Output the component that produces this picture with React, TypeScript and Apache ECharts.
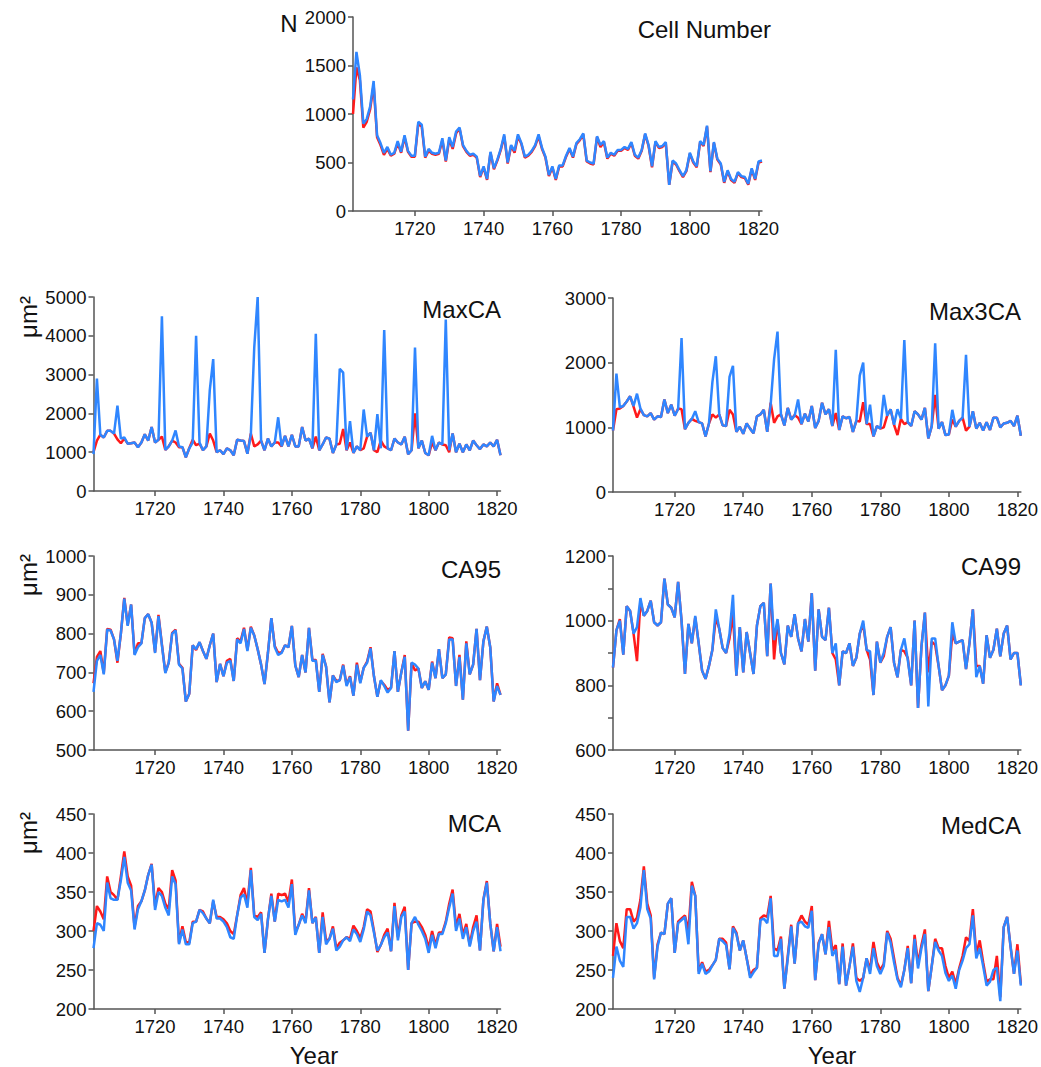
import React, { useEffect, useRef } from "react";
import * as echarts from "echarts";

const years = Array.from({ length: 120 }, (_, i) => 1702 + i);
const xTickValues = [1720, 1740, 1760, 1780, 1800, 1820];

const cellBlue = [
  1150, 1640, 1400, 900, 950, 1080, 1340, 780, 700, 600,
  660, 580, 600, 720, 610, 780, 620, 570, 570, 920,
  890, 560, 640, 600, 590, 600, 750, 520, 760, 660,
  820, 860, 680, 620, 580, 590, 560, 360, 460, 330,
  610, 440, 530, 640, 790, 500, 680, 620, 790, 700,
  560, 580, 620, 680, 790, 650, 560, 370, 460, 330,
  470, 470, 570, 650, 560, 700, 740, 800, 520, 500,
  490, 770, 680, 720, 550, 600, 580, 630, 630, 660,
  640, 710, 580, 550, 630, 800, 680, 460, 720, 660,
  670, 710, 270, 520, 490, 420, 360, 420, 600, 510,
  460, 720, 680, 880, 410, 710, 540, 490, 300, 420,
  330, 300, 400, 360, 350, 280, 440, 330, 510, 520,
];
const cellRed = [
  1000, 1480, 1350, 860, 920, 1050, 1300, 760, 680, 580,
  640, 570, 590, 700, 600, 760, 610, 560, 560, 900,
  870, 550, 620, 590, 580, 590, 730, 510, 740, 640,
  800, 850, 670, 610, 570, 580, 550, 350, 450, 320,
  600, 430, 520, 630, 770, 490, 670, 600, 770, 690,
  550, 570, 610, 670, 770, 640, 550, 360, 450, 320,
  460, 460, 560, 640, 550, 690, 730, 790, 510, 490,
  480, 760, 660, 710, 540, 590, 570, 620, 620, 650,
  630, 700, 570, 540, 620, 790, 670, 450, 710, 650,
  660, 700, 270, 510, 480, 410, 350, 410, 590, 500,
  450, 710, 670, 870, 400, 700, 530, 480, 290, 410,
  320, 290, 390, 350, 340, 270, 430, 320, 500, 510,
];

const maxcaBlue = [
  950, 2900, 1450, 1380, 1550, 1550, 1480, 2200, 1350, 1380,
  1220, 1230, 1250, 1130, 1250, 1460, 1300, 1650, 1250, 1320,
  4500, 1060, 1150, 1300, 1560, 1150, 1130, 870, 1100, 1250,
  4000, 1250, 1050, 1150, 2600, 3400, 1000, 1050, 950, 1100,
  1050, 920, 1320, 1300, 1290, 960, 1450, 3700, 5000, 1300,
  1050, 1350, 1150, 1250, 1900, 1150, 1420, 1150, 1450, 1150,
  1150, 1650, 1300, 1350, 1100, 4050, 1050, 1200, 1380, 1350,
  980, 1200, 3150, 3050, 1050, 1800, 980, 1150, 1050, 2100,
  1400, 1500, 1050, 1980, 1100, 4150, 1100, 1050, 1350, 1250,
  1200, 1400, 950, 1050, 3700, 1100, 1300, 980, 920, 1420,
  1050, 1250, 1200, 4420, 1050, 1480, 1000, 1220, 1000, 1200,
  1050, 1300, 1180, 1080, 1200, 1150, 1250, 1150, 1320, 920,
];
const maxcaRed = [
  1000, 1300, 1450, 1380, 1550, 1550, 1480, 1330, 1230, 1350,
  1220, 1230, 1250, 1130, 1250, 1460, 1300, 1650, 1250, 1320,
  1400, 1060, 1150, 1300, 1250, 1130, 1130, 870, 1100, 1320,
  1180, 1220, 1050, 1150, 1480, 1300, 1000, 1050, 950, 1100,
  1050, 920, 1320, 1300, 1290, 960, 1480, 1150, 1200, 1300,
  1050, 1350, 1150, 1250, 1250, 1150, 1420, 1150, 1450, 1150,
  1150, 1650, 1300, 1350, 1100, 1400, 1050, 1200, 1380, 1350,
  980, 1200, 1220, 1600, 1050, 1250, 980, 1150, 1050, 1100,
  1400, 1500, 1050, 1000, 1300, 1150, 1100, 1050, 1350, 1250,
  1200, 1400, 950, 1050, 2000, 1100, 1300, 980, 920, 1250,
  1050, 1250, 1200, 1180, 1000, 1480, 1000, 1220, 1000, 1200,
  1050, 1300, 1180, 1080, 1200, 1150, 1250, 1150, 1320, 920,
];

const max3Blue = [
  950, 1830, 1310, 1330, 1400, 1480, 1330, 1520, 1290, 1190,
  1170, 1220, 1120, 1170, 1160, 1430, 1220, 1350, 1180, 1280,
  2380, 970, 1070, 1130, 1250, 1080, 1060, 860, 1060, 1700,
  2100, 1200, 1030, 1020, 1780, 1950, 930, 1010, 900, 1060,
  980, 910, 1170, 1200, 1270, 930, 1350, 2050, 2480, 1200,
  1030, 1300, 1120, 1180, 1430, 1050, 1210, 1090, 1330, 990,
  1100, 1380, 1200, 1280, 1020, 2200, 960, 1170, 1140, 1160,
  930, 1100, 1800, 2000, 1050, 1350, 860, 1020, 980, 1500,
  1180, 1280, 1040, 1280, 1130, 2350, 1080, 1020, 1250, 1200,
  1120, 1300, 830, 1020, 2300, 980, 1080, 880, 890, 1270,
  1010, 1100, 1150, 2120, 1010, 1250, 980, 1070, 950, 1080,
  960, 1150, 1150, 1000, 1060, 1070, 1100, 1020, 1180, 870,
];
const max3Red = [
  950, 1280, 1290, 1330, 1400, 1480, 1320, 1150, 1280, 1190,
  1170, 1220, 1120, 1170, 1160, 1430, 1220, 1350, 1180, 1290,
  1280, 970, 1070, 1130, 1100, 1080, 1060, 860, 1060, 1200,
  1150, 1200, 1030, 1020, 1270, 1200, 930, 1010, 900, 1060,
  980, 910, 1170, 1200, 1270, 930, 1380, 1070, 1170, 1200,
  1030, 1300, 1120, 1190, 1150, 1050, 1210, 1090, 1330, 990,
  1100, 1380, 1200, 1280, 1020, 1220, 960, 1170, 1140, 1160,
  930, 1100, 1090, 1390, 1050, 1050, 860, 1020, 980, 1000,
  1180, 1280, 1040, 880, 1130, 1050, 1080, 1020, 1250, 1200,
  1120, 1300, 830, 1020, 1500, 980, 1080, 880, 890, 1120,
  1010, 1100, 1150, 950, 1010, 1250, 980, 1070, 950, 1080,
  960, 1150, 1150, 1000, 1060, 1070, 1100, 1020, 1180, 870,
];

const ca95Blue = [
  650, 730, 745, 695, 810, 808, 785, 730, 800, 890,
  820, 875, 745, 765, 775, 840, 850, 828, 750, 845,
  770, 698, 725, 800, 808, 720, 710, 625, 645, 770,
  760, 778, 755, 735, 770, 800, 675, 722, 690, 725,
  730, 678, 785, 775, 812, 755, 815, 795, 760, 720,
  670, 750, 840, 765, 745, 750, 770, 765, 820, 718,
  688, 745, 700, 815, 730, 730, 650, 745, 715, 623,
  692, 675, 680, 718, 665, 688, 640, 720, 672, 712,
  725, 762, 690, 637, 680, 665, 648, 660, 755, 650,
  700, 740, 550, 725, 720, 710, 660, 677, 655, 725,
  685, 760, 685, 695, 785, 785, 665, 740, 630, 775,
  695, 720, 812, 680, 780, 818, 765, 625, 665, 642,
];
const ca95Red = [
  672, 740, 755, 698, 812, 810, 785, 725, 800, 892,
  822, 875, 748, 775, 775, 840, 850, 828, 752, 848,
  772, 700, 725, 802, 810, 722, 712, 625, 645, 770,
  758, 778, 755, 735, 770, 800, 675, 722, 690, 730,
  735, 678, 788, 780, 815, 758, 818, 795, 760, 720,
  670, 750, 840, 768, 750, 752, 770, 765, 820, 718,
  688, 745, 700, 815, 732, 732, 650, 748, 715, 623,
  692, 678, 680, 720, 668, 690, 640, 725, 675, 712,
  728, 765, 690, 637, 678, 668, 655, 660, 755, 650,
  700, 745, 550, 725, 705, 710, 660, 677, 655, 728,
  685, 760, 685, 695, 790, 788, 665, 745, 630, 780,
  695, 720, 812, 680, 780, 818, 765, 625, 672, 642,
];

const ca99Blue = [
  855, 970, 1000, 895, 1045, 1030, 960, 980, 1070, 1015,
  1030, 1062, 995, 985, 995, 1130, 1050, 1040, 1010, 1120,
  1000, 835, 990, 930, 1015, 930, 845, 820, 860, 910,
  1035, 975, 915, 900, 960, 1080, 830, 980, 840, 965,
  900, 835, 985, 1045, 1055, 890, 1115, 940, 1005, 900,
  865, 985, 950, 1020, 945, 905, 1005, 935, 1085, 845,
  1035, 950, 940, 1040, 900, 930, 800, 905, 900, 930,
  860, 885, 960, 1000, 910, 905, 770, 935, 870, 900,
  950, 980, 870, 825, 910, 945, 880, 800, 1000, 730,
  920, 1025, 735, 945, 945, 860, 785, 800, 830, 995,
  930, 935, 940, 850, 930, 1035, 825, 860, 805, 955,
  885, 910, 975, 890, 960, 985, 880, 900, 900, 800,
];
const ca99Red = [
  855, 970, 1005, 895, 1045, 1030, 960, 875, 1060, 1015,
  1030, 1062, 995, 985, 995, 1130, 1050, 1040, 1010, 1120,
  1000, 835, 990, 930, 1010, 930, 845, 820, 860, 910,
  1010, 975, 915, 900, 945, 1020, 830, 980, 840, 965,
  900, 835, 985, 1045, 1055, 890, 1115, 880, 1000, 900,
  865, 985, 950, 1020, 945, 905, 1005, 935, 1085, 845,
  1035, 950, 940, 1040, 900, 880, 800, 905, 900, 930,
  860, 885, 960, 990, 910, 880, 770, 935, 870, 890,
  950, 980, 870, 825, 910, 905, 885, 800, 1000, 730,
  920, 1025, 840, 935, 925, 860, 785, 800, 830, 960,
  930, 935, 940, 850, 930, 1035, 860, 860, 805, 955,
  885, 910, 975, 890, 960, 985, 880, 900, 900, 800,
];

const mcaBlue = [
  278, 310, 308, 300, 362, 342, 340, 340, 365, 395,
  362, 352, 302, 328, 338, 352, 372, 385, 327, 350,
  345, 330, 320, 370, 360, 283, 302, 283, 283, 310,
  312, 327, 323, 316, 310, 340, 316, 316, 312, 305,
  292, 290, 320, 343, 347, 330, 378, 318, 314, 322,
  272, 315, 345, 312, 340, 338, 340, 330, 360, 295,
  308, 320, 310, 352, 310, 317, 272, 318, 283, 290,
  303, 275, 280, 288, 292, 287, 302, 296, 286, 302,
  325, 320, 298, 275, 282, 292, 298, 274, 332, 288,
  318, 325, 250, 310, 318, 308, 300, 290, 272, 295,
  278, 296, 296, 310, 330, 348, 300, 316, 290, 305,
  280, 300, 312, 275, 340, 362, 310, 274, 305, 274,
];
const mcaRed = [
  300, 332, 325, 315, 370, 350, 346, 340, 370, 402,
  370, 358, 305, 332, 338, 352, 372, 386, 332, 355,
  350, 335, 328, 378, 365, 285, 306, 286, 285, 312,
  312, 327, 325, 316, 310, 338, 318, 318, 315, 310,
  300, 296, 320, 346, 355, 335, 381, 320, 318, 324,
  272, 315, 348, 312, 348, 346, 348, 337, 366, 298,
  308, 322, 312, 355, 310, 318, 272, 324, 287, 290,
  306, 278, 285, 288, 292, 290, 307, 300, 291, 305,
  328, 325, 300, 273, 282, 295, 303, 274, 336, 292,
  320, 331, 250, 310, 312, 312, 305, 295, 278, 300,
  282, 298, 298, 312, 335, 353, 305, 322, 295, 309,
  282, 305, 320, 275, 340, 364, 310, 274, 309, 280,
];

const medcaBlue = [
  240, 280, 262, 254, 318, 318, 303, 310, 330, 378,
  328, 316, 238, 280, 298, 296, 335, 342, 272, 310,
  314, 318, 283, 358, 345, 245, 258, 245, 248, 256,
  263, 290, 287, 282, 251, 304, 296, 275, 288, 265,
  240, 247, 253, 314, 316, 310, 342, 268, 268, 290,
  226, 265, 306, 258, 310, 312, 306, 304, 326, 237,
  283, 296, 270, 305, 268, 276, 232, 280, 230, 255,
  280, 236, 222, 240, 265, 245, 278, 255, 245, 255,
  298, 285, 260, 238, 228, 250, 278, 233, 290, 252,
  278, 296, 223, 255, 286, 275, 268, 246, 236, 243,
  226, 250, 262, 278, 283, 320, 265, 278, 255, 230,
  235, 250, 253, 210, 305, 318, 280, 245, 275, 230,
];
const medcaRed = [
  268, 310, 287, 278, 328, 328, 312, 317, 340, 383,
  335, 320, 240, 283, 298, 296, 335, 342, 272, 312,
  316, 320, 300, 363, 345, 248, 260, 248, 250, 256,
  263, 290, 290, 285, 251, 306, 298, 275, 288, 265,
  243, 250, 253, 316, 320, 318, 345, 278, 275, 293,
  226, 268, 308, 258, 310, 320, 312, 308, 332, 237,
  285, 296, 270, 313, 275, 282, 232, 284, 230, 255,
  284, 240, 236, 240, 265, 250, 286, 260, 250, 258,
  300, 290, 265, 240, 230, 250, 281, 233, 295, 258,
  282, 302, 223, 255, 290, 278, 278, 255, 240, 248,
  232, 252, 268, 292, 287, 328, 270, 288, 260, 235,
  238, 238, 268, 215, 305, 318, 280, 245, 283, 232,
];

const ca99LabelValues = [600, 800, 1000, 1200];

const panels = [
  { title: "Cell Number", blue: cellBlue, red: cellRed, min: 0, max: 2000, interval: 500, grid: { left: 353, top: 17, width: 409, height: 194 }, tx: 771, ty: 29 },
  { title: "MaxCA", blue: maxcaBlue, red: maxcaRed, min: 0, max: 5000, interval: 1000, grid: { left: 93.5, top: 297, width: 407, height: 194 }, tx: 501, ty: 309 },
  { title: "Max3CA", blue: max3Blue, red: max3Red, min: 0, max: 3000, interval: 1000, grid: { left: 613, top: 298, width: 408, height: 194 }, tx: 1021, ty: 311 },
  { title: "CA95", blue: ca95Blue, red: ca95Red, min: 500, max: 1000, interval: 100, grid: { left: 93.5, top: 556, width: 407, height: 194 }, tx: 501, ty: 569 },
  { title: "CA99", blue: ca99Blue, red: ca99Red, min: 600, max: 1200, interval: 100, labels: ca99LabelValues, grid: { left: 613, top: 556, width: 408, height: 194 }, tx: 1021, ty: 566 },
  { title: "MCA", blue: mcaBlue, red: mcaRed, min: 200, max: 450, interval: 50, grid: { left: 93.5, top: 814, width: 407, height: 195 }, tx: 501, ty: 823 },
  { title: "MedCA", blue: medcaBlue, red: medcaRed, min: 200, max: 450, interval: 50, grid: { left: 613, top: 814, width: 408, height: 195 }, tx: 1021, ty: 825 },
];

const FONT = "'Liberation Sans', Arial, sans-serif";
const AXIS_COLOR = "#555";
const TEXT_COLOR = "#111";
const RED = "#ff1a1a";
const BLUE = "#2f86ff";
const plain = (v: number) => String(v);

export default function App() {
  const ref = useRef<HTMLDivElement>(null);
  useEffect(() => {
    if (!ref.current) return;
    const chart = echarts.init(ref.current, undefined, { renderer: "svg" });
    const grid: any[] = [];
    const xAxis: any[] = [];
    const yAxis: any[] = [];
    const series: any[] = [];
    const graphic: any[] = [];
    panels.forEach((p, i) => {
      grid.push({ ...p.grid, containLabel: false });
      xAxis.push({
        type: "value",
        gridIndex: i,
        min: 1702,
        max: 1821,
        axisLine: { show: true, lineStyle: { color: AXIS_COLOR, width: 1.5 } },
        axisTick: { show: true, length: 5, customValues: xTickValues, lineStyle: { color: AXIS_COLOR, width: 1.5 } },
        axisLabel: { customValues: xTickValues, formatter: plain, fontSize: 18.5, color: TEXT_COLOR, margin: 8, fontFamily: FONT },
        splitLine: { show: false },
      });
      const yLabel: any = { formatter: plain, fontSize: 18.5, color: TEXT_COLOR, margin: 7, fontFamily: FONT };
      if (p.labels) yLabel.customValues = p.labels;
      yAxis.push({
        type: "value",
        gridIndex: i,
        min: p.min,
        max: p.max,
        interval: p.interval,
        axisLine: { show: true, lineStyle: { color: AXIS_COLOR, width: 1.5 } },
        axisTick: { show: true, length: 5, lineStyle: { color: AXIS_COLOR, width: 1.5 } },
        axisLabel: yLabel,
        splitLine: { show: false },
      });
      series.push({
        type: "line",
        xAxisIndex: i,
        yAxisIndex: i,
        data: years.map((yr, j) => [yr, p.red[j]]),
        symbol: "none",
        lineStyle: { color: RED, width: 2.5 },
        itemStyle: { color: RED },
        z: 2,
      });
      series.push({
        type: "line",
        xAxisIndex: i,
        yAxisIndex: i,
        data: years.map((yr, j) => [yr, p.blue[j]]),
        symbol: "none",
        lineStyle: { color: BLUE, width: 2.5 },
        itemStyle: { color: BLUE },
        z: 3,
      });
      graphic.push({
        type: "text",
        x: p.tx,
        y: p.ty,
        style: { text: p.title, fontSize: 24, fontFamily: FONT, fill: TEXT_COLOR, textAlign: "right", textVerticalAlign: "middle" },
      });
    });
    graphic.push({
      type: "text", x: 289, y: 23,
      style: { text: "N", fontSize: 24, fontFamily: FONT, fill: TEXT_COLOR, textAlign: "center", textVerticalAlign: "middle" },
    });
    [317, 575, 833].forEach((cy) => {
      graphic.push({
        type: "text", x: 28, y: cy, rotation: Math.PI / 2,
        style: { text: "μm²", fontSize: 24, fontFamily: FONT, fill: TEXT_COLOR, textAlign: "center", textVerticalAlign: "middle" },
      });
    });
    [314, 832].forEach((cx) => {
      graphic.push({
        type: "text", x: cx, y: 1055,
        style: { text: "Year", fontSize: 24, fontFamily: FONT, fill: TEXT_COLOR, textAlign: "center", textVerticalAlign: "middle" },
      });
    });
    chart.setOption({
      animation: false,
      backgroundColor: "#ffffff",
      grid,
      xAxis,
      yAxis,
      series,
      graphic,
    });
    return () => chart.dispose();
  }, []);
  return <div ref={ref} style={{ position: "absolute", left: 0, top: 0, width: 1041, height: 1067 }} />;
}
